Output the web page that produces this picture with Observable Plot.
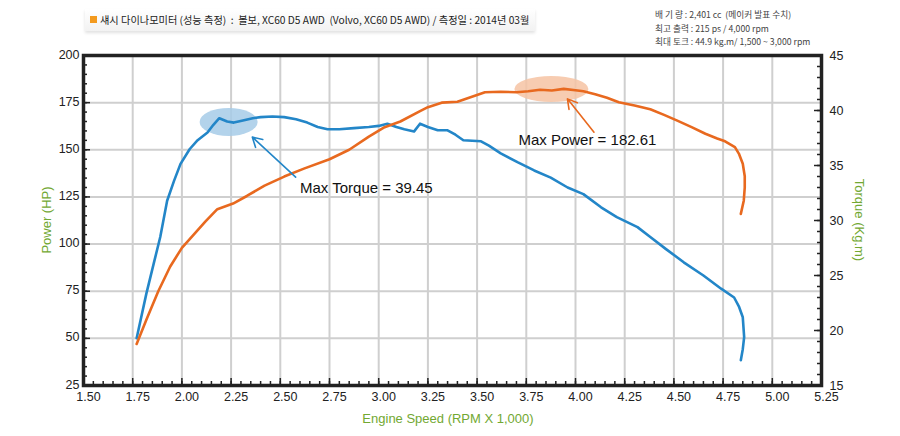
<!DOCTYPE html>
<html>
<head>
<meta charset="utf-8">
<script src="https://cdn.jsdelivr.net/npm/d3@7"></script>
<script src="https://cdn.jsdelivr.net/npm/@observablehq/plot@0.6"></script>
<style>
  body { margin: 0; background: #fff; font-family: "Liberation Sans", Arial, sans-serif; }
  #wrap { position: relative; width: 900px; height: 436px; }
  #head { position: relative; height: 45px; }
  #title {
    position: absolute; left: 85px; top: 9px; width: 450px; height: 22px;
    background: linear-gradient(#ffffff, #f2f2f2);
    box-shadow: 0 2px 3px rgba(0,0,0,0.12);
    font-family: "Noto Sans CJK KR", sans-serif; font-size: 10.2px; color: #222;
    line-height: 22px; padding-left: 15px; box-sizing: border-box; white-space: nowrap;
  }
  #title span.sq { position: absolute; left: 5px; top: 7px; width: 7px; height: 7px; background: #f39a1e; }
  #spec {
    position: absolute; left: 655px; top: 8px;
    font-family: "Noto Sans CJK KR", sans-serif; font-size: 8.7px; color: #444; line-height: 13.5px; white-space: nowrap;
  }
  .ylab { position: absolute; color: #72a832; font-size: 13px; white-space: nowrap; }
  #chart { position: absolute; left: 0; top: 45px; }
</style>
</head>
<body>
<div id="wrap">
  <div id="head">
    <div id="title"><span class="sq"></span>섀시 다이나모미터 (성능 측정) &nbsp;:&nbsp; 볼보, XC60 D5 AWD &nbsp;(Volvo, XC60 D5 AWD) / 측정일 : 2014년 03월</div>
    <div id="spec">배 기 량 : 2,401 cc &nbsp;(메이커 발표 수치)<br>최고 출력 : 215 ps / 4,000 rpm<br>최대 토크 : 44.9 kg.m/ 1,500 ~ 3,000 rpm</div>
  </div>
  <div id="chart"></div>
  <div class="ylab" style="left:46px; top:220px; transform: translate(-50%,-50%) rotate(-90deg);">Power (HP)</div>
  <div class="ylab" style="left:859px; top:220px; transform: translate(-50%,-50%) rotate(90deg);">Torque (Kg.m)</div>
  <div class="ylab" style="left:448px; top:411px; transform: translateX(-50%);">Engine Speed (RPM X 1,000)</div>
</div>
<script>
// power curve (HP, left axis)
const powerRpm = [1.77, 1.82, 1.88, 1.94, 2.00, 2.06, 2.12, 2.18, 2.26, 2.33, 2.42, 2.52, 2.62, 2.75, 2.85, 2.95, 3.03, 3.11, 3.21, 3.25, 3.32, 3.40, 3.47, 3.54, 3.62, 3.70, 3.76, 3.82, 3.88, 3.94, 4.00, 4.04, 4.10, 4.16, 4.22, 4.30, 4.38, 4.45, 4.52, 4.59, 4.66, 4.72, 4.76, 4.81, 4.83, 4.85, 4.86, 4.86, 4.855, 4.84];
const powerHp = [47, 60, 75, 88, 98, 105, 112, 118.5, 121.5, 125.5, 131, 135.8, 140, 145, 150, 157, 162, 165, 170.5, 172.6, 175, 175.5, 178, 180.5, 180.8, 180.5, 181, 181.8, 181.4, 182.3, 181.6, 181, 179.5, 177.6, 175.2, 173.5, 171.5, 168.5, 165.3, 162, 158.5, 156, 154.5, 151.4, 148, 142.6, 136, 130, 123, 116];

// torque curve (kg.m, right axis)
const torqueRpm = [1.77, 1.82, 1.857, 1.89, 1.925, 1.96, 1.993, 2.04, 2.08, 2.13, 2.16, 2.19, 2.23, 2.264, 2.31, 2.36, 2.40, 2.46, 2.52, 2.58, 2.637, 2.69, 2.74, 2.80, 2.874, 2.95, 3.00, 3.044, 3.09, 3.13, 3.18, 3.21, 3.25, 3.30, 3.35, 3.39, 3.43, 3.52, 3.56, 3.62, 3.705, 3.79, 3.874, 3.96, 4.04, 4.13, 4.21, 4.315, 4.38, 4.46, 4.55, 4.65, 4.74, 4.806, 4.83, 4.85, 4.857, 4.85, 4.84];
const torqueKgm = [19.3, 23.4, 26.1, 28.5, 31.8, 33.6, 35.15, 36.5, 37.3, 38.0, 38.7, 39.3, 39.0, 38.9, 39.1, 39.3, 39.4, 39.45, 39.4, 39.2, 38.9, 38.5, 38.3, 38.3, 38.4, 38.5, 38.6, 38.8, 38.5, 38.3, 38.1, 38.8, 38.5, 38.2, 38.2, 37.8, 37.3, 37.2, 36.8, 36.1, 35.3, 34.55, 33.9, 33.0, 32.4, 31.2, 30.3, 29.4, 28.5, 27.4, 26.2, 25.0, 23.8, 23.0, 22.2, 21.2, 19.4, 18.3, 17.3];

// axes
const rpmTicks = [1.50, 1.75, 2.00, 2.25, 2.50, 2.75, 3.00, 3.25, 3.50, 3.75, 4.00, 4.25, 4.50, 4.75, 5.00, 5.25];
const hpTicks = [25, 50, 75, 100, 125, 150, 175, 200];
const torqueTicks = [15, 20, 25, 30, 35, 40, 45];

// annotations
const noteLabels = ["Max Torque = 39.45", "Max Power = 182.61"];
const noteX = [2.60, 3.71];
const noteY = [129.5, 154.9];
const arrowFromX = [2.578, 4.094];
const arrowFromY = [135.5, 159.3];
const arrowToX = [2.358, 3.959];
const arrowToY = [156.7, 177];
const blobX = [2.24, 3.88];
const blobY = [164.5, 182];

// torque lives on the right axis: map 15..45 onto 25..200
const toHp = t => 25 + (t - 15) * 175 / 30;
const fromHp = h => 15 + (h - 25) * 30 / 175;

const power = powerRpm.map((x, i) => ({x, y: powerHp[i]}));
const torque = torqueRpm.map((x, i) => ({x, y: toHp(torqueKgm[i])}));
const notes = noteLabels.map((t, i) => ({
  text: t, x: noteX[i], y: noteY[i],
  x1: arrowFromX[i], y1: arrowFromY[i], x2: arrowToX[i], y2: arrowToY[i],
  bx: blobX[i], by: blobY[i]
}));

const minorX = d3.range(1.5, 5.2501, 0.05).map(v => +v.toFixed(2));
const minorHp = d3.range(25, 200.01, 5);
const minorT = d3.range(15, 45.01, 1).map(toHp);

const blue = "#2386c8";
const orange = "#e8691f";

function blobs(index, scales) {
  const g = d3.create("svg:g");
  const fills = ["#a6cbe8", "#f6c3a3"];
  const rx = [29, 37], ry = [14, 13];
  notes.forEach((n, i) => {
    g.append("ellipse")
      .attr("cx", scales.x(n.bx)).attr("cy", scales.y(n.by))
      .attr("rx", rx[i]).attr("ry", ry[i])
      .attr("fill", fills[i]).attr("fill-opacity", 0.85);
  });
  return g.node();
}

const plot = Plot.plot({
  width: 900,
  height: 391,
  marginLeft: 83,
  marginRight: 79,
  marginTop: 10,
  marginBottom: 51,
  style: {fontFamily: "Liberation Sans, Arial, sans-serif", fontSize: "12.5px", color: "#222"},
  x: {domain: [1.5, 5.25]},
  y: {domain: [25, 200]},
  marks: [
    Plot.gridX(rpmTicks.slice(1, -1), {stroke: "#cfcfcf", strokeOpacity: 1, strokeWidth: 2}),
    Plot.gridY(hpTicks.slice(1, -1), {stroke: "#cfcfcf", strokeOpacity: 1, strokeWidth: 2}),
    blobs,
    Plot.line(torque, {x: "x", y: "y", stroke: blue, strokeWidth: 2.6}),
    Plot.line(power, {x: "x", y: "y", stroke: orange, strokeWidth: 2.6}),
    Plot.arrow(notes, {x1: "x1", y1: "y1", x2: "x2", y2: "y2",
      stroke: (d, i) => i === 0 ? blue : orange, strokeWidth: 1.6, headLength: 10}),
    Plot.text(notes, {x: "x", y: "y", text: "text", textAnchor: "start", fontSize: 15, fill: "#111"}),
    // inside ticks
    Plot.tickX(minorX, {x: d => d, insetTop: 326, stroke: "#222", strokeWidth: 1.5}),
    Plot.tickX(rpmTicks, {x: d => d, insetTop: 323, stroke: "#222", strokeWidth: 1.5}),
    Plot.tickY(minorHp, {y: d => d, insetRight: 734, stroke: "#222", strokeWidth: 1.5}),
    Plot.tickY(hpTicks, {y: d => d, insetRight: 731, stroke: "#222", strokeWidth: 1.5}),
    Plot.tickY(minorT, {y: d => d, insetLeft: 734, stroke: "#222", strokeWidth: 1.5}),
    Plot.tickY(torqueTicks.map(toHp), {y: d => d, insetLeft: 731, stroke: "#222", strokeWidth: 1.5}),
    Plot.frame({stroke: "#222", strokeWidth: 3.5}),
    Plot.axisX(rpmTicks, {tickSize: 0, tickPadding: 7, dx: 5, tickFormat: d3.format(".2f"), label: null}),
    Plot.axisY(hpTicks, {tickSize: 0, tickPadding: 4, dy: -1, label: null}),
    Plot.axisY(torqueTicks.map(toHp), {anchor: "right", tickSize: 0, tickPadding: 8,
      tickFormat: v => String(Math.round(fromHp(v))), label: null})
  ]
});

document.getElementById("chart").append(plot);
</script>
</body>
</html>
